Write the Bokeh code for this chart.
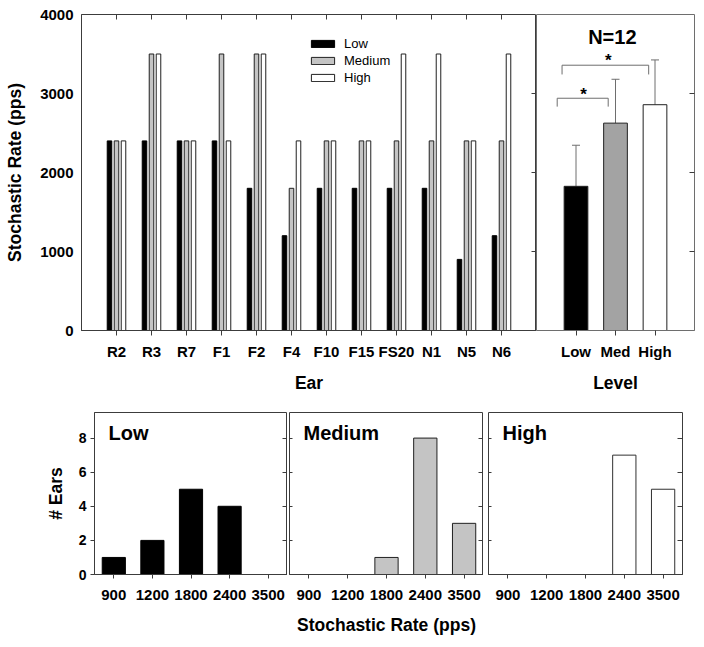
from bokeh.plotting import figure
from bokeh.models import (FactorRange, Range1d, LinearAxis, CategoricalAxis, FixedTicker,
                          Legend, LegendItem, Label, ColumnDataSource)
from bokeh.transform import dodge
from bokeh.layouts import column, row
from bokeh.embed import file_html
from bokeh.resources import INLINE

# ---------------- data ----------------
ears = ["R2", "R3", "R7", "F1", "F2", "F4", "F10", "F15", "FS20", "N1", "N5", "N6"]
low_rate = [2400, 2400, 2400, 2400, 1800, 1200, 1800, 1800, 1800, 1800, 900, 1200]
med_rate = [2400, 3500, 2400, 3500, 3500, 1800, 2400, 2400, 2400, 2400, 2400, 2400]
high_rate = [2400, 3500, 2400, 2400, 3500, 2400, 2400, 2400, 3500, 3500, 2400, 3500]

levels = ["Low", "Med", "High"]
level_mean = [1825, 2625, 2858]
level_sd = [520, 555, 567]

rate_bins = ["900", "1200", "1800", "2400", "3500"]
low_count = [1, 2, 5, 4, 0]
med_count = [0, 0, 1, 8, 3]
high_count = [0, 0, 0, 7, 5]

top_y_ticks = [0, 1000, 2000, 3000, 4000]
hist_y_ticks = [0, 2, 4, 6, 8]

FONT = "Liberation Sans"
EDGE = "#3c3c3c"
GRAY_LINE = "#6e6e6e"


def style_axis(ax, size="15px"):
    ax.major_label_text_font = FONT
    ax.major_label_text_font_style = "bold"
    ax.major_label_text_font_size = size
    ax.major_label_text_color = "black"
    ax.axis_label_text_font = FONT
    ax.axis_label_text_font_style = "bold"
    ax.axis_label_text_font_size = "17.5px"
    ax.axis_label_text_color = "black"
    ax.minor_tick_line_color = None
    ax.major_tick_line_color = EDGE
    ax.axis_line_color = EDGE


def tick_only_axis(ax, ticks_in):
    ax.major_tick_in = ticks_in
    ax.major_tick_out = 0
    ax.minor_tick_line_color = None
    ax.major_label_text_font_size = "0px"
    ax.major_label_standoff = 0
    ax.axis_line_color = None
    ax.major_tick_line_color = EDGE
    return ax


# ---------------- top-left: per ear ----------------
p1 = figure(width=536, height=395,
            x_range=FactorRange(factors=ears, range_padding=0.5, range_padding_units="absolute"),
            y_range=Range1d(0, 4000), output_backend="svg", toolbar_location=None,
            min_border_left=81, min_border_right=0, min_border_top=14, min_border_bottom=63)
p1.grid.visible = False
p1.outline_line_color = EDGE
src = ColumnDataSource(dict(ear=ears, low=low_rate, med=med_rate, high=high_rate))
r_low = p1.vbar(x=dodge("ear", -0.2, range=p1.x_range), top="low", width=0.13, source=src,
                fill_color="black", line_color="black")
r_med = p1.vbar(x=dodge("ear", 0.0, range=p1.x_range), top="med", width=0.13, source=src,
                fill_color="#c4c4c4", line_color="#202020")
r_high = p1.vbar(x=dodge("ear", 0.2, range=p1.x_range), top="high", width=0.13, source=src,
                 fill_color="white", line_color="#202020")

ya = p1.yaxis[0]
style_axis(ya)
ya.ticker = FixedTicker(ticks=top_y_ticks)
ya.major_tick_in = 0
ya.major_tick_out = 0
ya.major_label_standoff = 8
ya.axis_label = "Stochastic Rate (pps)"
ya.axis_label_standoff = 12

xa = p1.xaxis[0]
style_axis(xa)
xa.major_tick_in = 0
xa.major_tick_out = 5
xa.major_label_standoff = 7
xa.axis_label = "Ear"
xa.axis_label_standoff = 10

p1.add_layout(tick_only_axis(CategoricalAxis(), 5), "above")
p1.add_layout(tick_only_axis(LinearAxis(ticker=FixedTicker(ticks=[1000, 2000, 3000])), 5), "right")

legend = Legend(items=[LegendItem(label="Low", renderers=[r_low]),
                       LegendItem(label="Medium", renderers=[r_med]),
                       LegendItem(label="High", renderers=[r_high])],
                location=(227, 245), glyph_width=29, glyph_height=9, label_height=13,
                spacing=2, padding=0, margin=0, border_line_color=None,
                background_fill_alpha=0, label_text_font=FONT, label_text_font_size="13px",
                label_text_color="black", label_standoff=7)
p1.add_layout(legend)

# ---------------- top-right: level means ----------------
p2 = figure(width=160, height=395,
            x_range=FactorRange(factors=levels, range_padding=0.5, range_padding_units="absolute"),
            y_range=Range1d(0, 4000), output_backend="svg", toolbar_location=None,
            y_axis_location=None,
            min_border_left=0, min_border_right=2, min_border_top=14, min_border_bottom=63)
p2.grid.visible = False
p2.outline_line_color = GRAY_LINE
level_upper = [m + s for m, s in zip(level_mean, level_sd)]
p2.segment(x0=levels, y0=level_mean, x1=levels, y1=level_upper, line_color=GRAY_LINE)
p2.scatter(x=levels, y=level_upper, marker="dash", size=8, line_color=GRAY_LINE)
p2.vbar(x=levels, top=level_mean, width=0.6,
        fill_color=["black", "#a3a3a3", "white"], line_color="#202020")

# significance brackets (annotation)
p2.multi_line(xs=[[0.024, 0.024, 1.315, 1.315], [0.147, 0.147, 2.34, 2.34]],
              ys=[[2834, 2940, 2940, 2834], [3241, 3358, 3358, 3241]],
              line_color=GRAY_LINE)
for sx, sy in [(0.69, 2990), (1.32, 3420)]:
    p2.add_layout(Label(x=sx, y=sy, text="*", text_font=FONT, text_font_style="bold",
                        text_font_size="17px", text_align="center", text_baseline="middle",
                        text_color="black"))
p2.add_layout(Label(x=1.42, y=3711, text="N=12", text_font=FONT, text_font_style="bold",
                    text_font_size="20px", text_align="center", text_baseline="middle",
                    text_color="black"))

xa2 = p2.xaxis[0]
style_axis(xa2)
xa2.major_tick_in = 0
xa2.major_tick_out = 5
xa2.major_label_standoff = 7
xa2.axis_label = "Level"
xa2.axis_label_standoff = 10
xa2.axis_line_color = GRAY_LINE
p2.add_layout(tick_only_axis(LinearAxis(ticker=FixedTicker(ticks=[1000, 2000, 3000])), 5), "right")


# ---------------- bottom: histograms ----------------
def hist_panel(counts, fill, line, title, width, left, right, show_y):
    h = figure(width=width, height=244,
               x_range=FactorRange(factors=rate_bins, range_padding=0),
               y_range=Range1d(0, 9.5), output_backend="svg", toolbar_location=None,
               y_axis_location="left" if show_y else None,
               min_border_left=left, min_border_right=right, min_border_top=17,
               min_border_bottom=65)
    h.grid.visible = False
    h.outline_line_color = EDGE
    xs = [b for b, c in zip(rate_bins, counts) if c > 0]
    cs = [c for c in counts if c > 0]
    h.vbar(x=xs, top=cs, width=0.6, fill_color=fill, line_color=line)
    xa = h.xaxis[0]
    style_axis(xa, "15px")
    xa.major_tick_in = 0
    xa.major_tick_out = 4
    xa.major_label_standoff = 11
    if show_y:
        ya = h.yaxis[0]
        style_axis(ya, "14px")
        ya.ticker = FixedTicker(ticks=hist_y_ticks)
        ya.major_tick_in = 0
        ya.major_tick_out = 4
        ya.major_label_standoff = 4
        ya.axis_label = "# Ears"
        ya.axis_label_standoff = 10
    else:
        h.add_layout(tick_only_axis(LinearAxis(ticker=FixedTicker(ticks=hist_y_ticks)), 3), "left")
    h.add_layout(tick_only_axis(LinearAxis(ticker=FixedTicker(ticks=hist_y_ticks)), 5), "right")
    h.add_layout(Label(x=0, y=9.5, x_offset=14, y_offset=-20, text=title, text_font=FONT,
                       text_font_style="bold", text_font_size="20px", text_color="black",
                       text_align="left", text_baseline="middle"))
    return h


h1 = hist_panel(low_count, "black", "black", "Low", 287, 94, 0, True)
h2 = hist_panel(med_count, "#c4c4c4", "#202020", "Medium", 196, 2, 0, False)
h2.xaxis[0].axis_label = "Stochastic Rate (pps)"
h2.xaxis[0].axis_label_standoff = 12
h3 = hist_panel(high_count, "white", "#303030", "High", 201, 5, 2, False)

layout = column(row(p1, p2), row(h1, h2, h3))
open("out.html", "w").write(file_html(layout, INLINE))
